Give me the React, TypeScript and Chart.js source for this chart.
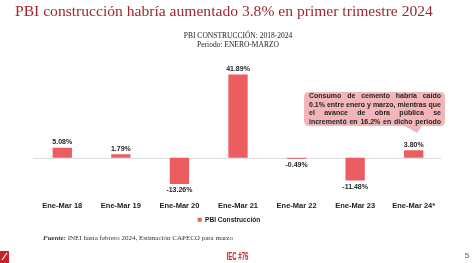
import React, { useEffect, useRef } from 'react';
import { Chart, registerables } from 'chart.js';

Chart.register(...registerables);

const TITLE = 'PBI construcción habría aumentado 3.8% en primer trimestre 2024';
const SUBTITLE = ['PBI CONSTRUCCIÓN: 2018-2024', 'Periodo: ENERO-MARZO'];
const categories = ['Ene-Mar 18', 'Ene-Mar 19', 'Ene-Mar 20', 'Ene-Mar 21', 'Ene-Mar 22', 'Ene-Mar 23', 'Ene-Mar 24*'];
const seriesName = 'PBI Construcción';
const pbiValues = [5.08, 1.79, -13.26, 41.89, -0.49, -11.48, 3.8];
const noteLines = [
  'Consumo de cemento habría caído',
  '0.1% entre enero y marzo, mientras que',
  'el avance de obra pública se',
  'incrementó en 16.2% en dicho periodo',
];
const sourceBold = 'Fuente:';
const sourceText = ' INEI hasta febrero 2024, Estimación CAPECO para marzo';
const footerText = 'IEC #76';
const pageNumber = '5';

const SANS = '"Liberation Sans", Arial, Helvetica, sans-serif';
const SERIF = '"Liberation Serif", "Times New Roman", serif';
const BAR_COLOR = '#ec5d61';

function justify(ctx: CanvasRenderingContext2D, text: string, x: number, y: number, width: number) {
  const words = text.split(' ');
  const total = words.reduce((s, w) => s + ctx.measureText(w).width, 0);
  const gap = words.length > 1 ? (width - total) / (words.length - 1) : 0;
  let cx = x;
  words.forEach((w) => {
    ctx.fillText(w, cx, y);
    cx += ctx.measureText(w).width + gap;
  });
}

const decor = {
  id: 'decor',
  beforeDatasetsDraw(chart: any) {
    const { ctx, chartArea, scales } = chart;
    const y0 = Math.round(scales.y.getPixelForValue(0)) + 0.5;
    ctx.save();
    ctx.strokeStyle = '#dcdcdc';
    ctx.lineWidth = 1;
    ctx.beginPath();
    ctx.moveTo(chartArea.left, y0);
    ctx.lineTo(chartArea.right - 2, y0);
    ctx.stroke();
    ctx.restore();
  },
  afterDatasetsDraw(chart: any) {
    const { ctx } = chart;
    const meta = chart.getDatasetMeta(0);
    ctx.save();
    ctx.font = `bold 7px ${SANS}`;
    ctx.fillStyle = '#262626';
    ctx.textAlign = 'center';
    meta.data.forEach((bar: any, i: number) => {
      const v = pbiValues[i];
      const label = v.toFixed(2) + '%';
      if (v >= 0) {
        ctx.textBaseline = 'bottom';
        ctx.fillText(label, bar.x, bar.y - 2);
      } else {
        ctx.textBaseline = 'top';
        ctx.fillText(label, bar.x, bar.y + 3);
      }
    });
    ctx.restore();
  },
  afterDraw(chart: any) {
    const { ctx } = chart;
    ctx.save();
    // callout box
    const bx = 304, by = 92, bw = 141, bh = 34, r = 5;
    ctx.fillStyle = '#f3b6b8';
    ctx.beginPath();
    ctx.moveTo(bx + r, by);
    ctx.lineTo(bx + bw - r, by);
    ctx.quadraticCurveTo(bx + bw, by, bx + bw, by + r);
    ctx.lineTo(bx + bw, by + bh - r);
    ctx.quadraticCurveTo(bx + bw, by + bh, bx + bw - r, by + bh);
    ctx.lineTo(422, by + bh);
    ctx.lineTo(417, by + bh + 7);
    ctx.lineTo(405, by + bh);
    ctx.lineTo(bx + r, by + bh);
    ctx.quadraticCurveTo(bx, by + bh, bx, by + bh - r);
    ctx.lineTo(bx, by + r);
    ctx.quadraticCurveTo(bx, by, bx + r, by);
    ctx.closePath();
    ctx.fill();
    ctx.fillStyle = '#1f1f1f';
    ctx.font = `bold 7px ${SANS}`;
    ctx.textBaseline = 'middle';
    ctx.textAlign = 'left';
    noteLines.forEach((line, i) => {
      justify(ctx, line, bx + 5, by + 4.5 + i * 8.5, bw - 9);
    });
    // source
    ctx.fillStyle = '#333333';
    ctx.font = `italic bold 7px ${SERIF}`;
    ctx.fillText(sourceBold, 43, 238);
    const w = ctx.measureText(sourceBold).width;
    ctx.font = `7px ${SERIF}`;
    ctx.fillText(sourceText, 43 + w, 238);
    // footer
    ctx.fillStyle = '#c8222b';
    ctx.fillRect(0, 251, 9, 12);
    ctx.strokeStyle = '#ffffff';
    ctx.lineWidth = 1.2;
    ctx.beginPath();
    ctx.moveTo(2, 260);
    ctx.lineTo(7, 253);
    ctx.stroke();
    ctx.fillStyle = '#c0262d';
    ctx.font = `bold 11px ${SANS}`;
    ctx.textAlign = 'center';
    ctx.save();
    ctx.translate(237.5, 257);
    ctx.scale(0.55, 1);
    ctx.fillText(footerText, 0, 0);
    ctx.restore();
    ctx.fillStyle = '#555555';
    ctx.font = `8px ${SANS}`;
    ctx.fillText(pageNumber, 467, 256);
    ctx.restore();
  },
};

export default function App() {
  const ref = useRef<HTMLCanvasElement>(null);
  useEffect(() => {
    if (!ref.current) return;
    const chart = new Chart(ref.current, {
      type: 'bar',
      data: {
        labels: categories,
        datasets: [
          {
            label: seriesName,
            data: pbiValues,
            backgroundColor: BAR_COLOR,
            borderWidth: 0,
            barPercentage: 0.33,
            categoryPercentage: 1,
          },
        ],
      },
      options: {
        responsive: false,
        animation: false,
        layout: { padding: { left: 15, right: 31, top: 0, bottom: 30 } },
        scales: {
          x: {
            grid: { display: false, drawTicks: false },
            border: { display: false },
            ticks: { color: '#222222', font: { family: SANS, size: 7.5, weight: 'bold' }, padding: 4, maxRotation: 0 },
          },
          y: {
            display: true,
            min: -20,
            max: 50,
            grid: { display: false, drawTicks: false },
            border: { display: false },
            ticks: { display: false },
            afterFit: (scale: any) => {
              scale.width = 18;
            },
          },
        },
        plugins: {
          title: {
            display: true,
            text: TITLE,
            align: 'start',
            color: '#9f2630',
            font: { family: SERIF, size: 15.6, weight: 'normal' },
            padding: { top: 3, bottom: 10.3 },
          },
          subtitle: {
            display: true,
            fullSize: false,
            text: SUBTITLE,
            color: '#222222',
            font: { family: SERIF, size: 7.5, lineHeight: 1.2 },
            padding: { top: 0, bottom: 8.5 },
          },
          legend: {
            position: 'bottom',
            labels: { boxWidth: 4, boxHeight: 4, color: '#222222', font: { family: SANS, size: 6.6, weight: 'bold' }, padding: 2 },
          },
          tooltip: { enabled: false },
        },
      },
      plugins: [decor],
    });
    return () => chart.destroy();
  }, []);
  return (
    <div style={{ position: 'fixed', left: 0, top: 0, width: 474, height: 263, background: '#ffffff' }}>
      <canvas ref={ref} width={474} height={263} style={{ display: 'block' }} />
    </div>
  );
}
